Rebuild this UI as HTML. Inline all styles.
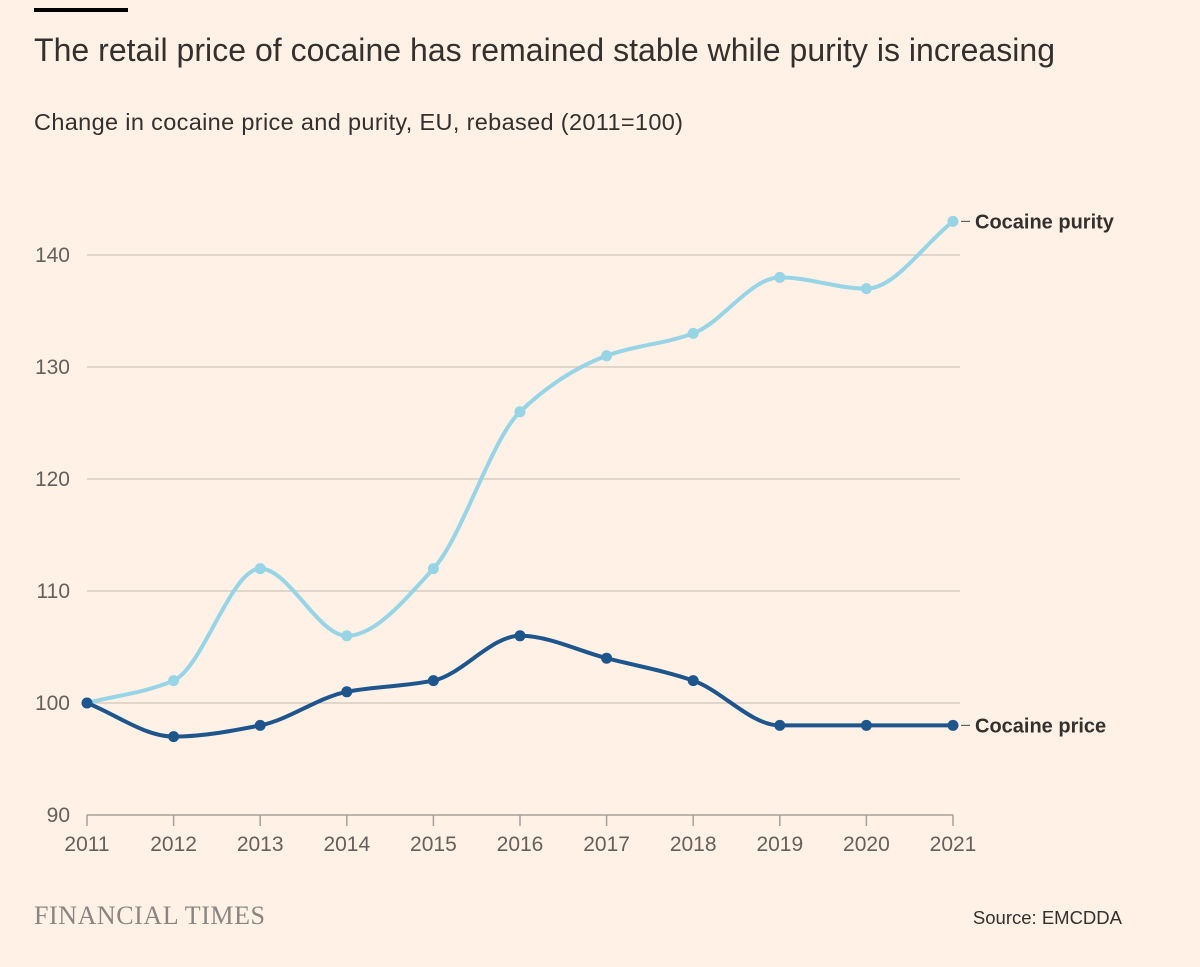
<!DOCTYPE html>
<html><head><meta charset="utf-8">
<style>
body{margin:0;background:#fff1e5;width:1200px;height:967px;overflow:hidden;font-family:"Liberation Sans",sans-serif;color:#33302e}
svg{position:absolute;left:0;top:0}
</style></head>
<body>
<svg id="chart" width="1200" height="967">
  <rect x="34" y="8" width="94" height="4" fill="#000"/>
  <text x="34" y="61" font-size="32" fill="#33302e" textLength="1021">The retail price of cocaine has remained stable while purity is increasing</text>
  <text x="34" y="130" font-size="23.5" fill="#33302e" textLength="649">Change in cocaine price and purity, EU, rebased (2011=100)</text>
  <g id="grid"></g>
  <g id="xaxis"></g>
  <g id="series"></g>
  <text x="34" y="924" font-size="26" font-family="Liberation Serif,serif" fill="#8a8580" textLength="231">FINANCIAL TIMES</text>
  <text x="1122" y="924" font-size="18.5" text-anchor="end" fill="#33302e">Source: EMCDDA</text>
</svg>
<script>
const years=[2011,2012,2013,2014,2015,2016,2017,2018,2019,2020,2021];
const purity=[100,102,112,106,112,126,131,133,138,137,143];
const price=[100,97,98,101,102,106,104,102,98,98,98];
const yTicks=[90,100,110,120,130,140];
const NS="http://www.w3.org/2000/svg";
const x=v=>87+(v-2011)*86.6;
const y=v=>815-(v-90)*11.2;
function el(t,a,p){const e=document.createElementNS(NS,t);for(const k in a)e.setAttribute(k,a[k]);p.appendChild(e);return e;}
const grid=document.getElementById('grid');
yTicks.forEach(t=>{
  if(t>90){const l=el('line',{x1:87,x2:960,y1:y(t),y2:y(t),stroke:'#cec6b9','stroke-width':1.2},grid);
  
  }
  const tx=el('text',{x:70,y:y(t)+7,'font-size':21,'text-anchor':'end',fill:'#66605c'},grid);
  tx.textContent=t;
  
  
});
const xa=document.getElementById('xaxis');
const ax=el('line',{x1:87,x2:953,y1:815,y2:815,stroke:'#a7a09a','stroke-width':1.5},xa);


years.forEach(yr=>{
  const tk=el('line',{x1:x(yr),x2:x(yr),y1:815,y2:826,stroke:'#a7a09a','stroke-width':1.5},xa);
  
  
  const t=el('text',{x:x(yr),y:851,'font-size':21,'text-anchor':'middle',fill:'#66605c'},xa);
  t.textContent=yr;
  
  
});
function monotone(px,py){
  const n=px.length,d=[],m=[];
  for(let i=0;i<n-1;i++)d.push((py[i+1]-py[i])/(px[i+1]-px[i]));
  for(let i=0;i<n;i++){
    if(i==0)m.push(d[0]);else if(i==n-1)m.push(d[n-2]);
    else m.push(d[i-1]*d[i]>0?2/(1/d[i-1]+1/d[i]):0);
  }
  let s=`M${px[0]},${py[0]}`;
  for(let i=0;i<n-1;i++){const h=(px[i+1]-px[i])/3;
    s+=` C${px[i]+h},${py[i]+m[i]*h} ${px[i+1]-h},${py[i+1]-m[i+1]*h} ${px[i+1]},${py[i+1]}`;}
  return s;
}
const sg=document.getElementById('series');
function draw(vals,col,name,label){
  const px=years.map(x),py=vals.map(y);
  const p=el('path',{d:monotone(px,py),fill:'none',stroke:col,'stroke-width':4},sg);
  
  
  vals.forEach((v,i)=>{
    const c=el('circle',{cx:px[i],cy:py[i],r:5.5,fill:col},sg);
    
    
  });
  const ly=py[py.length-1];
  const ln=el('line',{x1:px[px.length-1]+8,x2:px[px.length-1]+17,y1:ly,y2:ly,stroke:'#66605c','stroke-width':1.2},sg);
  
  
  const t=el('text',{x:975,y:ly+7,'font-size':20,fill:'#33302e','font-weight':'bold'},sg);
  t.textContent=label;
  
  
}
draw(purity,'#96d4e6','purity','Cocaine purity');
draw(price,'#1e558c','price','Cocaine price');
</script>
</body></html>
